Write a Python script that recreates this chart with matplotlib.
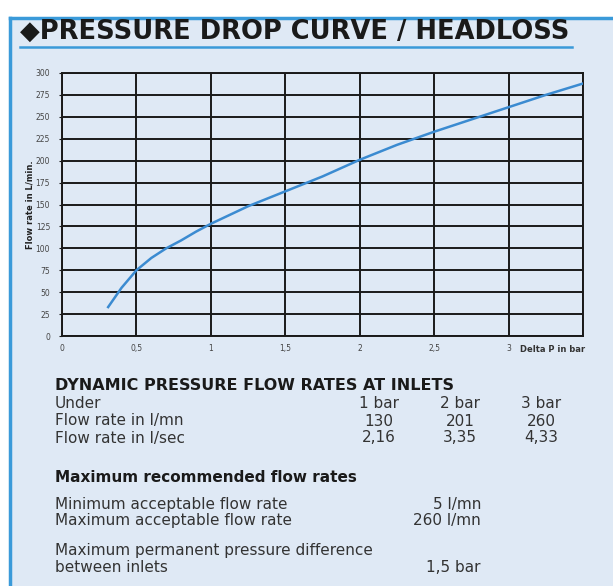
import matplotlib.pyplot as plt
from matplotlib.patches import Rectangle
from matplotlib.lines import Line2D

# curve
delta_p = [0.31, 0.4, 0.5, 0.6, 0.7, 0.8, 0.9, 1.0, 1.25, 1.5, 1.75, 2.0, 2.25, 2.5, 2.75, 3.0, 3.25, 3.5]
debit = [33, 55, 75, 89, 100, 109, 119, 128, 148, 165, 182, 201, 218, 233, 247, 261, 275, 288]

x_ticks = [0, 0.5, 1, 1.5, 2, 2.5, 3]
x_labels = ['0', '0,5', '1', '1,5', '2', '2,5', '3']
y_ticks = list(range(0, 301, 25))

# table under the chart
colonnes = ['1 bar', '2 bar', '3 bar']
debit_lmn = ['130', '201', '260']
debit_lsec = ['2,16', '3,35', '4,33']

fond = '#dfe9f5'
bleu = '#3a9ad9'
police = ['Liberation Sans Narrow', 'DejaVu Sans']

fig = plt.figure(figsize=(6.13, 5.86), dpi=100)
fig.patch.set_facecolor('white')

W, H = 613, 586
def fx(px):
    return px / W
def fy(py):
    return 1 - py / H

# cadre bleu
fig.patches.append(Rectangle((fx(10), 0), 1, fy(18), transform=fig.transFigure,
                             facecolor=fond, edgecolor='none', zorder=-10))
fig.lines.append(Line2D([fx(10), fx(10)], [0, fy(18)], transform=fig.transFigure, color=bleu, lw=2.5))
fig.lines.append(Line2D([fx(10), 1], [fy(18), fy(18)], transform=fig.transFigure, color=bleu, lw=2.5))

# titre
fig.text(fx(20), fy(32), '\u25c6PRESSURE DROP CURVE / HEADLOSS', fontsize=18.5, fontweight='heavy',
         color='#1a1a1a', va='center', ha='left', family=['DejaVu Sans'])
fig.lines.append(Line2D([fx(20), fx(572)], [fy(47), fy(47)], transform=fig.transFigure, color=bleu, lw=1.8))

# graphique
ax = fig.add_axes([fx(62), fy(336), fx(583) - fx(62), fy(73) - fy(336)])
ax.set_facecolor(fond)
ax.plot(delta_p, debit, color='#3b8bd1', lw=1.8, zorder=3)
ax.set_xlim(0, 3.5)
ax.set_ylim(0, 300)
ax.set_xticks(x_ticks + [3.5])
ax.set_xticklabels(x_labels + [''])
ax.set_yticks(y_ticks)
ax.grid(True, color='#1a1a1a', lw=1.4)
for s in ax.spines.values():
    s.set_color('#1a1a1a')
    s.set_linewidth(1.4)
ax.tick_params(labelsize=5.5, labelcolor='#444444', length=2.5, color='#1a1a1a', pad=6)
ax.tick_params(axis='x', length=0)
ax.set_ylabel('Flow rate in L/min.', fontsize=6, fontweight='bold', color='#222222', labelpad=1)
ax.text(3.08, -15, 'Delta P in bar', fontsize=6, fontweight='bold', color='#333333',
        ha='left', va='center', clip_on=False)

# tableau
txt = dict(fontsize=11, color='#333333', va='center', family=police)
fig.text(fx(55), fy(385), 'DYNAMIC PRESSURE FLOW RATES AT INLETS', fontweight='bold',
         fontsize=11.5, color='#1a1a1a', va='center', family=police)
fig.text(fx(55), fy(403), 'Under', **txt)
fig.text(fx(55), fy(421), 'Flow rate in l/mn', **txt)
fig.text(fx(55), fy(438), 'Flow rate in l/sec', **txt)
centres = [379, 460, 541]
for c, a, b, d in zip(centres, colonnes, debit_lmn, debit_lsec):
    fig.text(fx(c), fy(403), a, ha='center', **txt)
    fig.text(fx(c), fy(421), b, ha='center', **txt)
    fig.text(fx(c), fy(438), d, ha='center', **txt)

fig.text(fx(55), fy(477), 'Maximum recommended flow rates', fontweight='bold', fontsize=11,
         color='#1a1a1a', va='center', family=police)
fig.text(fx(55), fy(504), 'Minimum acceptable flow rate', **txt)
fig.text(fx(55), fy(521), 'Maximum acceptable flow rate', **txt)
fig.text(fx(481), fy(504), '5 l/mn', ha='right', **txt)
fig.text(fx(481), fy(521), '260 l/mn', ha='right', **txt)
fig.text(fx(55), fy(550), 'Maximum permanent pressure difference', **txt)
fig.text(fx(55), fy(568), 'between inlets', **txt)
fig.text(fx(481), fy(568), '1,5 bar', ha='right', **txt)

fig.savefig('out.png', dpi=100)
